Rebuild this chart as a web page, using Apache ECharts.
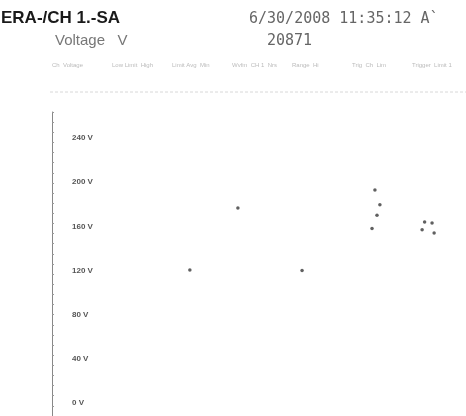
<!DOCTYPE html>
<html>
<head>
<meta charset="utf-8">
<style>
  html, body { margin: 0; padding: 0; background: #fff; }
  #chart { width: 466px; height: 416px; }
</style>
<script src="https://cdn.jsdelivr.net/npm/echarts@6/dist/echarts.min.js"></script>
</head>
<body>
<div id="chart"></div>
<script>
// Voltage scale, printed on the left edge
const voltTicks = [0, 40, 80, 120, 160, 200, 240];
const voltLabels = ['0 V', '40 V', '80 V', '120 V', '160 V', '200 V', '240 V'];

// Recorded samples: time position (% of span) and voltage
const sampleTime = [44.9, 33.3, 78.0, 79.2, 78.5, 77.3, 90.0, 91.8, 89.4, 92.3, 60.4];
const sampleVolt = [176.6, 120.5, 193.0, 179.5, 170.0, 158.0, 164.0, 163.0, 157.0, 154.0, 120.0];

// Header columns of the event table
const headerCols = ['Ch  Voltage', 'Low Limit  High', 'Limit Avg  Min', 'Wvfm  CH 1  Nrs', 'Range  Hi', 'Trig  Ch  Lim', 'Trigger  Limit 1'];

const chart = echarts.init(document.getElementById('chart'));

const points = sampleTime.map((t, i) => [t, sampleVolt[i]]);

chart.setOption({
  animation: false,
  backgroundColor: '#ffffff',
  title: [
    { text: 'ERA-/CH 1.-SA', left: -4, top: 5, textStyle: { fontFamily: 'Liberation Sans', fontSize: 17, fontWeight: 'bold', color: '#1a1a1a' } },
    { text: '6/30/2008 11:35:12 A`', left: 244, top: 7, textStyle: { fontFamily: 'DejaVu Sans Mono', fontSize: 15, fontWeight: 'normal', color: '#666' } },
    { text: 'Voltage   V', left: 50, top: 28, textStyle: { fontFamily: 'Liberation Sans', fontSize: 15, fontWeight: 'normal', color: '#777' } },
    { text: '20871', left: 262, top: 29, textStyle: { fontFamily: 'DejaVu Sans Mono', fontSize: 15, fontWeight: 'normal', color: '#666' } }
  ],
  graphic: [
    ...headerCols.map((c, i) => ({
      type: 'text', left: 52 + i * 60, top: 62,
      style: { text: c, fontSize: 6, fill: '#bbb', fontFamily: 'Liberation Sans' }
    })),
    { type: 'line', shape: { x1: 50, y1: 92, x2: 466, y2: 92 }, style: { stroke: '#d8d8d8', lineWidth: 1, lineDash: [3, 2] } }
  ],
  grid: [
    { left: 52, right: 0, top: 138, bottom: 13 },
    { left: 52, right: 0, top: 112, bottom: 0 }
  ],
  xAxis: [
    { type: 'value', gridIndex: 0, min: 0, max: 100, show: false },
    { type: 'value', gridIndex: 1, min: 0, max: 100, show: false }
  ],
  yAxis: [
    {
      type: 'value', gridIndex: 0, min: 0, max: 240, interval: 40,
      axisLine: { show: false },
      axisTick: { show: false },
      splitLine: { show: false },
      axisLabel: {
        inside: true, margin: 20, color: '#555', fontSize: 8, fontWeight: 'bold',
        fontFamily: 'Liberation Sans',
        formatter: v => voltLabels[voltTicks.indexOf(v)] ?? ''
      }
    },
    {
      type: 'value', gridIndex: 1, min: 0, max: 60, interval: 2,
      axisLine: { show: true, lineStyle: { color: '#888', width: 1 } },
      axisTick: { show: true, inside: true, length: 2, lineStyle: { color: '#999' } },
      axisLabel: { show: false },
      splitLine: { show: false }
    }
  ],
  series: [
    {
      type: 'scatter', xAxisIndex: 0, yAxisIndex: 0,
      data: points, symbolSize: 3.5,
      itemStyle: { color: '#444', opacity: 0.85 }
    }
  ]
});
</script>
</body>
</html>
